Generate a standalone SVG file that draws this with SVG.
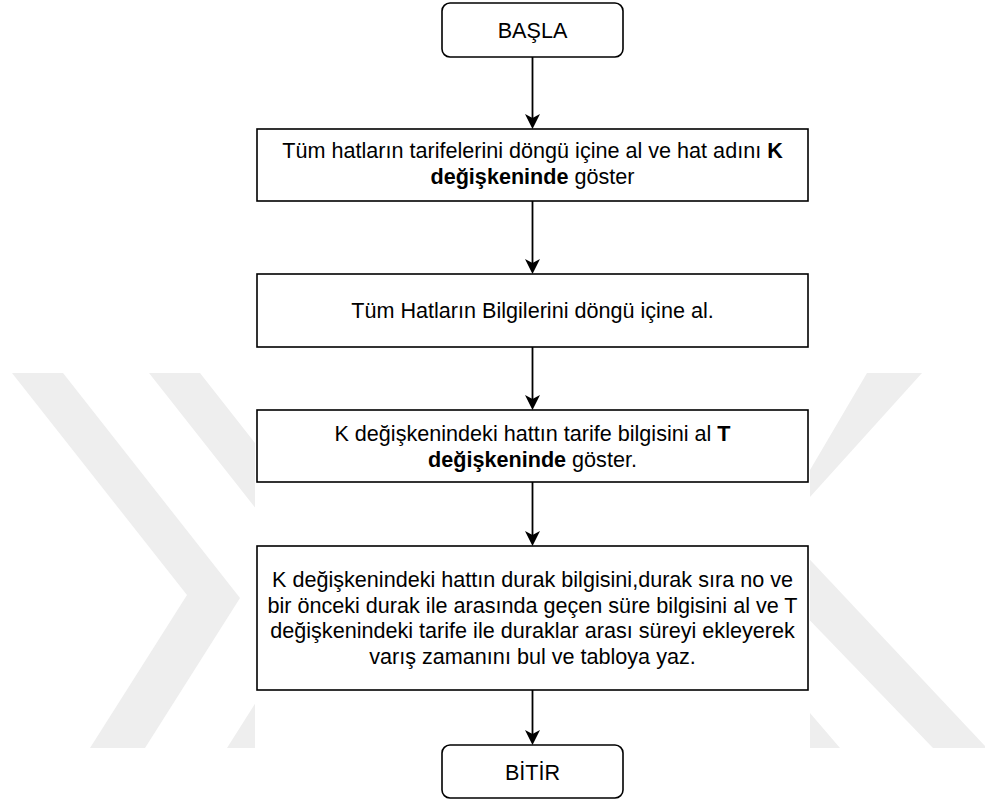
<svg xmlns="http://www.w3.org/2000/svg" width="985" height="803" viewBox="0 0 985 803">
<style>
.node rect{fill:#ffffff;stroke:#000000;stroke-width:1.6}
.node text{font-family:"Liberation Sans",Arial,Helvetica,sans-serif;font-size:21.6px;fill:#000000;text-anchor:middle}
.b{font-weight:bold}
.wm{fill:#eeeeee}
#connectors line{stroke:#000000;stroke-width:1.8;fill:none}
</style>
<defs>
<clipPath id="wmclip">
<rect x="0" y="0" width="255" height="803"/>
<rect x="810" y="0" width="175" height="803"/>
</clipPath>
<marker id="arr" markerUnits="userSpaceOnUse" markerWidth="16" markerHeight="16" refX="4" refY="7.5" orient="auto">
<path d="M0,0 L15,7.5 L0,15 L4,7.5 Z" fill="#000000"/>
</marker>
</defs>
<rect width="985" height="803" fill="#ffffff"/>
<g id="watermark" clip-path="url(#wmclip)">
<polygon class="wm" points="12,373 63,373 240,598 145,748 90,748 187,595"/>
<polygon class="wm" points="149,373 200,373 377,598 282,748 227,748 324,595"/>
<polygon class="wm" points="867,373 922,373 800,508 800,487"/>
<polygon class="wm" points="800,549 985,746 985,748 933,748 800,610"/>
<polygon class="wm" points="800,701 810,713 840,748 800,748"/>
</g>
<g id="connectors">
<line x1="532.5" y1="57" x2="532.5" y2="118" marker-end="url(#arr)"/>
<line x1="532.5" y1="201" x2="532.5" y2="263" marker-end="url(#arr)"/>
<line x1="532.5" y1="347" x2="532.5" y2="399" marker-end="url(#arr)"/>
<line x1="532.5" y1="482" x2="532.5" y2="535" marker-end="url(#arr)"/>
<line x1="532.5" y1="690" x2="532.5" y2="734" marker-end="url(#arr)"/>
</g>
<g id="basla" class="node">
<rect x="442" y="3" width="181" height="54" rx="8" ry="8"/>
<text x="532.5" y="37.5">BAŞLA</text>
</g>
<g id="step1" class="node">
<rect x="257" y="129" width="551" height="72"/>
<text x="532.5" y="158">Tüm hatların tarifelerini döngü içine al ve hat adını <tspan class="b">K</tspan></text>
<text x="532.5" y="184"><tspan class="b">değişkeninde</tspan> göster</text>
</g>
<g id="step2" class="node">
<rect x="257" y="274" width="551" height="73"/>
<text x="532.5" y="318">Tüm Hatların Bilgilerini döngü içine al.</text>
</g>
<g id="step3" class="node">
<rect x="257" y="410" width="551" height="72"/>
<text x="532.5" y="441">K değişkenindeki hattın tarife bilgisini al <tspan class="b">T</tspan></text>
<text x="532.5" y="467"><tspan class="b">değişkeninde</tspan> göster.</text>
</g>
<g id="step4" class="node">
<rect x="257" y="546" width="551" height="144"/>
<text x="532.5" y="587">K değişkenindeki hattın durak bilgisini,durak sıra no ve</text>
<text x="532.5" y="612.5">bir önceki durak ile arasında geçen süre bilgisini al ve T</text>
<text x="532.5" y="638">değişkenindeki tarife ile duraklar arası süreyi ekleyerek</text>
<text x="532.5" y="663.5">varış zamanını bul ve tabloya yaz.</text>
</g>
<g id="bitir" class="node">
<rect x="442" y="745" width="181" height="53" rx="8" ry="8"/>
<text x="532.5" y="779.5">BİTİR</text>
</g>
</svg>
